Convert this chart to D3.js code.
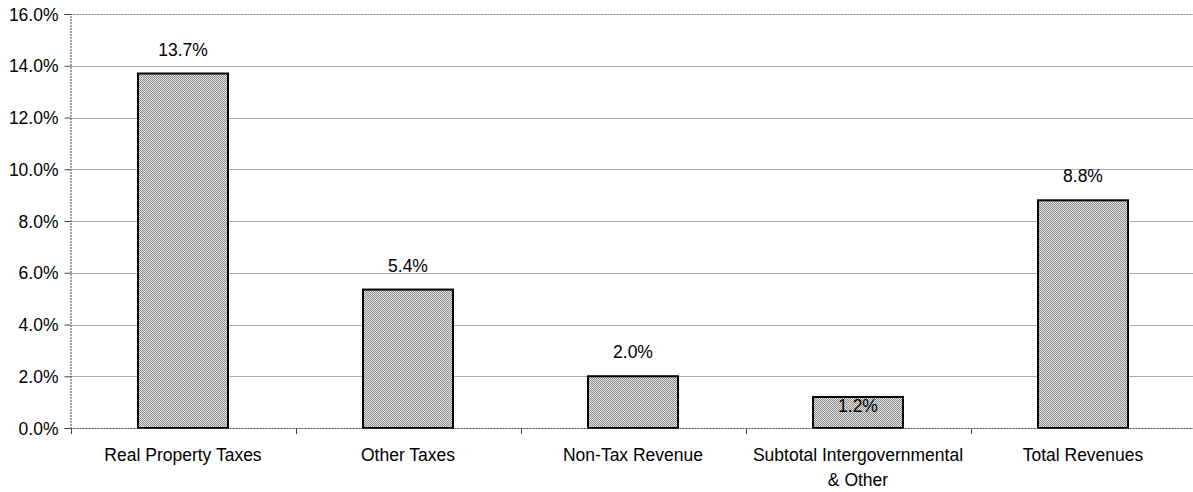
<!DOCTYPE html>
<html><head><meta charset="utf-8">
<script src="https://cdn.jsdelivr.net/npm/d3@7"></script>
<style>body{margin:0;background:#fff}svg{display:block}text{font-family:"Liberation Sans",Arial,sans-serif;fill:#000}</style>
</head><body><svg id="c" width="1193" height="492"></svg>
<script>
const categories = ["Real Property Taxes","Other Taxes","Non-Tax Revenue","Subtotal Intergovernmental\n& Other","Total Revenues"];
const values = [13.7, 5.35, 2.0, 1.2, 8.8];
const valueLabels = ["13.7%","5.4%","2.0%","1.2%","8.8%"];
const yTicks = [0,2,4,6,8,10,12,14,16];
const labelAbove = [true,true,true,false,true];

const W=1193,H=492, m={l:70.5,t:14,r:-2.5,b:64};
const svg=d3.select("#c");
const defs=svg.append("defs");
const pat=defs.append("pattern").attr("id","dots").attr("width",2).attr("height",2).attr("patternUnits","userSpaceOnUse");
pat.append("rect").attr("width",2).attr("height",2).attr("fill","#e4e4e4");
pat.append("rect").attr("width",1).attr("height",1).attr("fill","#8c8c8c");
pat.append("rect").attr("x",1).attr("y",1).attr("width",1).attr("height",1).attr("fill","#8c8c8c");

const x=d3.scaleBand().domain(categories).range([m.l,W-m.r]).paddingInner(0.6).paddingOuter(0.3);
const xb=d3.scaleBand().domain(categories).range([m.l,W-m.r]);
const y=d3.scaleLinear().domain([0,16]).range([H-m.b,m.t]);

svg.append("g").selectAll("line").data(yTicks.filter(t=>t>0&&t<16)).join("line")
 .attr("x1",m.l).attr("x2",W).attr("y1",d=>Math.round(y(d))+0.5).attr("y2",d=>Math.round(y(d))+0.5)
 .attr("stroke","#ababab").attr("stroke-width",1);
svg.append("line").attr("x1",m.l).attr("x2",W).attr("y1",m.t+0.5).attr("y2",m.t+0.5)
 .attr("stroke","#808080").attr("stroke-dasharray","2,1");

const ya=svg.append("g").attr("transform",`translate(${m.l},0)`)
 .call(d3.axisLeft(y).tickValues(yTicks).tickFormat(d=>d.toFixed(1)+"%").tickSize(6).tickPadding(6));
ya.select(".domain").attr("stroke","#444").attr("stroke-dasharray","2,1");
ya.selectAll(".tick line").attr("stroke","#444");
ya.selectAll(".tick text").attr("font-size","17.5px").attr("dy","0.35em").attr("font-family","Liberation Sans, Arial, sans-serif");

svg.append("g").selectAll("rect").data(values).join("rect")
 .attr("x",(d,i)=>x(categories[i])).attr("width",x.bandwidth())
 .attr("y",d=>y(d)).attr("height",d=>y(0)-y(d))
 .attr("fill","url(#dots)").attr("stroke","#000").attr("stroke-width",2);

const xa=svg.append("g").attr("transform",`translate(0,${H-m.b})`);
xa.append("line").attr("x1",m.l).attr("x2",W).attr("y1",0.5).attr("y2",0.5).attr("stroke","#444").attr("stroke-dasharray","2,1");
const bounds=categories.map(c=>xb(c)).concat([W-m.r]);
xa.selectAll("line.t").data(bounds).join("line").attr("class","t")
 .attr("x1",d=>Math.round(d)+0.5).attr("x2",d=>Math.round(d)+0.5).attr("y1",0).attr("y2",6).attr("stroke","#444");
xa.selectAll("text").data(categories).join("text")
 .attr("x",d=>xb(d)+xb.bandwidth()/2).attr("y",33).attr("text-anchor","middle").attr("font-size","17.5px")
 .each(function(d){const t=d3.select(this);d.split("\n").forEach((s,i)=>t.append("tspan").attr("x",xb(d)+xb.bandwidth()/2).attr("dy",i?"1.4em":0).text(s));});

svg.append("g").selectAll("text").data(values).join("text")
 .attr("x",(d,i)=>x(categories[i])+x.bandwidth()/2)
 .attr("y",(d,i)=>labelAbove[i]? y(d)-18 : y(d)+15)
 .attr("text-anchor","middle").attr("font-size","17.5px").text((d,i)=>valueLabels[i]);
</script></body></html>
